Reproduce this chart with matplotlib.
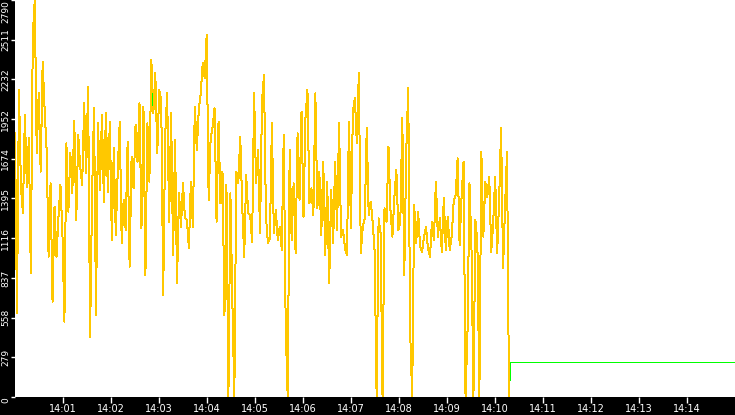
import matplotlib
matplotlib.use('Agg')
import numpy as np
import pandas as pd
import matplotlib.pyplot as plt
import matplotlib.dates as mdates

seg_1400 = [1853, 588, 2158, 1478, 1291, 1982, 1478, 1818, 869, 2544, 2790, 1713, 2134, 1584,
            2357, 2017, 1736, 986, 1502, 670, 1338, 986, 1268, 1490, 1150, 530, 1783, 1303,
            1713, 1432, 1940, 1244, 1842, 1619, 1490, 2064, 1572, 2181, 424, 1420, 2029, 576, 1924]
seg_1401 = [1455, 1982, 1373, 1994, 1443, 1935, 1104, 1748, 1139, 1596, 1935, 1080, 1385, 1174,
            1795, 916, 1689, 1467, 1912, 1654, 2064, 1186, 2041, 858, 1924, 1514, 2369, 1994,
            2275, 1713, 2158, 2088, 717, 1842, 2134, 1232, 1994, 998, 1806, 799, 1432, 1197, 1502]
seg_1403 = [1256, 1244, 1045, 1514, 1197, 2041, 1736, 2017, 2134, 2345, 2240, 2544, 1385, 1818,
            1900, 2029, 1232, 1935, 1361, 1584, 576, 1490, 0, 1432, 670, 0, 1584, 1502,
            1830, 1338, 986, 1560, 1291, 1279, 1092, 2134, 1502, 1736, 1150, 2076, 2263, 1268, 1080]
seg_1405 = [1115, 1924, 1150, 1314, 1104, 1197, 1033, 1842, 483, 0, 1736, 1104, 1502, 1010,
            1853, 1385, 2006, 1268, 1959, 2158, 1361, 1467, 1279, 2134, 1326, 1584, 1139, 1654,
            998, 1514, 799, 1455, 1080, 1654, 1174, 1924, 1127, 1174, 1045, 998, 1935, 1186, 2006]
seg_1407 = [2099, 1783, 2275, 1010, 1197, 1256, 1888, 1279, 1373, 1232, 1022, 0, 1256, 1150,
            0, 1326, 1232, 1760, 1314, 1127, 1408, 1596, 1174, 1232, 1959, 858, 1724, 2170,
            448, 0, 1350, 1080, 1303, 1057, 1022, 1127, 1197, 1045, 986, 1232, 1104, 1514, 1127]
seg_1408 = [1256, 1022, 1396, 1033, 1268, 1033, 1127, 1373, 1420, 1678, 1068, 1408, 1654, 0,
            459, 1502, 1057, 0, 1244, 1080, 0, 1724, 1127, 1514, 1408, 1549, 1022, 1221,
            1549, 1010, 1385, 1888, 904, 1338, 1724, 0]

yellow_values = seg_1400 + seg_1401 + seg_1403 + seg_1405 + seg_1407 + seg_1408
sample_step_s = 2.47
start = pd.Timestamp("2024-01-01 14:00:00")
yellow_times = start + pd.to_timedelta(np.arange(len(yellow_values)) * sample_step_s, unit="s")

green_times = pd.to_datetime(["2024-01-01 14:10:19", "2024-01-01 14:10:19", "2024-01-01 14:15:00"])
green_values = [119, 244, 244]
blip_times = pd.to_datetime(["2024-01-01 14:02:51", "2024-01-01 14:02:51"])
blip_values = [2134, 2052]

y_ticks = [0, 279, 558, 837, 1116, 1395, 1674, 1952, 2232, 2511, 2790]

fig = plt.figure(figsize=(7.35, 4.15), dpi=100, facecolor='black')
ax = fig.add_axes([15 / 735, 18 / 415, 720 / 735, 397 / 415])
ax.set_facecolor('white')

# 1 px lines, no smoothing, like the original renderer
ax.plot(yellow_times, yellow_values, color='#FFC800', lw=0.72, antialiased=False)
ax.plot(green_times, green_values, color='#00FF00', lw=0.72, antialiased=False)
ax.plot(blip_times, blip_values, color='#00FF00', lw=0.72, antialiased=False)

ax.set_xlim(start, pd.Timestamp("2024-01-01 14:15:00"))
ax.set_ylim(0, 2790)
ax.set_yticks(y_ticks)
ax.set_yticklabels([str(v) for v in y_ticks])
ax.xaxis.set_major_locator(mdates.MinuteLocator(byminute=range(1, 15)))
ax.xaxis.set_major_formatter(mdates.DateFormatter('%H:%M'))

ax.tick_params(colors='white', direction='out', width=1)
ax.tick_params(axis='x', length=4, labelsize=7, pad=1)
ax.tick_params(axis='y', length=3, labelsize=6.5, pad=0.5)
for lab in ax.get_yticklabels():
    lab.set_rotation(90)
    lab.set_va('center')
ax.get_yticklabels()[-1].set_va('top')
ax.get_yticklabels()[0].set_va('top')

for s in ax.spines.values():
    s.set_visible(False)

fig.savefig("out.png", dpi=100, facecolor='black')
